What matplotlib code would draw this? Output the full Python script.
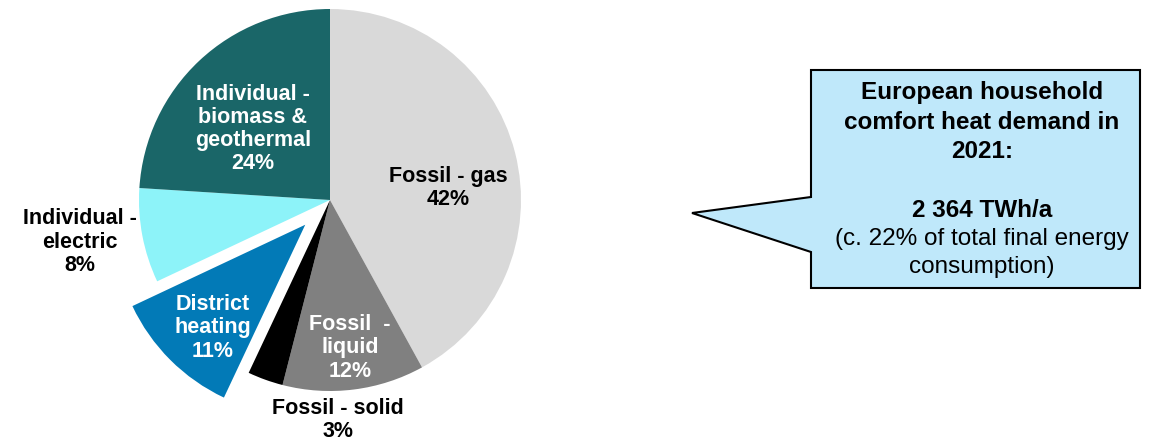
import matplotlib.pyplot as plt
from matplotlib.patches import Polygon

plt.rcParams['font.family'] = ['Liberation Sans', 'DejaVu Sans']

# shares of household comfort heat demand, clockwise from the top
labels = ['Fossil - gas\n42%', 'Fossil  -\nliquid\n12%', 'Fossil - solid\n3%',
          'District\nheating\n11%', 'Individual -\nelectric\n8%',
          'Individual -\nbiomass &\ngeothermal\n24%']
values = [42, 12, 3, 11, 8, 24]
colors = ['#D9D9D9', '#808080', '#000000', '#027AB7', '#8DF3F9', '#1A6668']
text_colors = ['black', 'white', 'black', 'white', 'black', 'white']
explode = [0, 0, 0, 35, 0, 0]  # pixels, district heating pulled out

callout_bold = 'European household\ncomfort heat demand in\n2021:'
callout_value = '2 364 TWh/a'
callout_note = '(c. 22% of total final energy\nconsumption)'

W, H = 1152, 440
fig = plt.figure(figsize=(W / 100, H / 100), dpi=100)
ax = fig.add_axes([0, 0, 1, 1])

cx, cy, r = 330, H - 200, 191
ax.pie(values, colors=colors, explode=explode, startangle=90, counterclock=False,
       center=(cx, cy), radius=r, wedgeprops=dict(linewidth=0))

# label positions in pixel coords (x, y from top)
label_pos = [(448, 188), (350, 348), (338, 420), (213, 328), (80, 242), (253, 129)]
for lab, (x, y), tc in zip(labels, label_pos, text_colors):
    ax.text(x, H - y, lab, ha='center', va='center', color=tc, fontsize=15.5,
            fontweight='bold', linespacing=1.13)

# speech-bubble callout
bubble = [(811, 70), (1140, 70), (1140, 288), (811, 288), (811, 252), (692, 213), (811, 197)]
ax.add_patch(Polygon([(x, H - y) for x, y in bubble], closed=True, facecolor='#BFE8FA',
                     edgecolor='black', linewidth=1.5))
ax.text(982, H - 122, callout_bold, ha='center', va='center', fontsize=17.5,
        fontweight='bold', linespacing=1.38)
ax.text(982, H - 210, callout_value, ha='center', va='center', fontsize=17.5,
        fontweight='bold')
ax.text(982, H - 253, callout_note, ha='center', va='center', fontsize=17.5,
        linespacing=1.38)

ax.set_xlim(0, W)
ax.set_ylim(0, H)
ax.set_aspect('equal')
ax.axis('off')
fig.savefig('out.png', dpi=100)
